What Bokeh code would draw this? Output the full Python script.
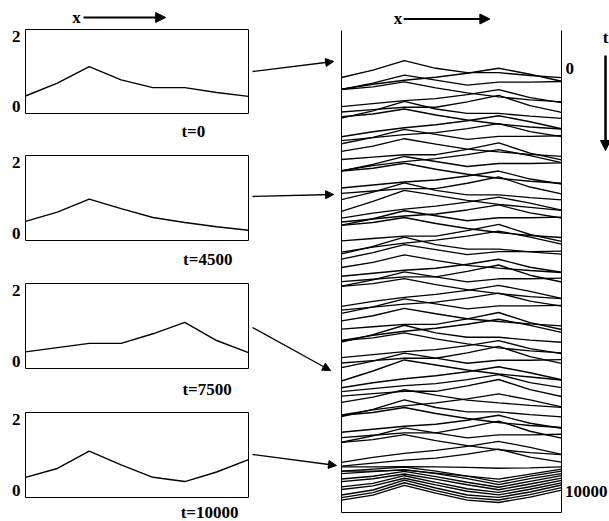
from bokeh.plotting import figure
from bokeh.layouts import row, column
from bokeh.models import Range1d, FixedTicker, LinearAxis, Arrow, NormalHead, Grid
from bokeh.core.properties import value
from bokeh.embed import file_html
from bokeh.resources import INLINE

# ---------------- data ----------------
x_nodes = [0, 1, 2, 3, 4, 5, 6, 7]
y_ticks = [0, 2]

snap_labels = ["t=0", "t=4500", "t=7500", "t=10000"]
u_t0 = [0.30, 0.67, 1.14, 0.76, 0.54, 0.54, 0.40, 0.29]
u_t4500 = [0.34, 0.60, 0.97, 0.70, 0.45, 0.31, 0.19, 0.09]
u_t7500 = [0.27, 0.39, 0.51, 0.51, 0.78, 1.10, 0.59, 0.25]
u_t10000 = [0.37, 0.62, 1.11, 0.72, 0.37, 0.25, 0.52, 0.87]

# other profile shapes seen in the space-time stack
u_a2 = [0.05, 0.55, 1.10, 0.85, 0.60, 0.40, 0.25, 0.10]
u_a3 = [0.71, 0.85, 1.10, 0.80, 0.55, 0.35, 0.20, 0.10]
u_b1 = [0.05, 0.30, 0.50, 0.65, 0.85, 1.10, 0.80, 0.45]
u_b2 = [0.20, 0.35, 0.50, 0.60, 0.80, 1.05, 0.65, 0.40]
u_m = [0.38, 0.70, 1.10, 0.85, 0.60, 0.75, 0.75, 0.78]
u_flat = [0.55, 0.55, 0.56, 0.55, 0.52, 0.48, 0.50, 0.55]
u_dip = [0.55, 0.55, 0.60, 0.45, 0.30, 0.15, 0.40, 0.65]
u_f1 = [0.80, 0.90, 1.00, 0.80, 0.55, 0.25, 0.55, 0.80]
u_f2 = [0.66, 0.80, 1.04, 0.78, 0.50, 0.25, 0.54, 0.83]
u_f3 = [0.52, 0.70, 1.08, 0.75, 0.43, 0.25, 0.53, 0.85]

shapes = {"t0": u_t0, "t4500": u_t4500, "t7500": u_t7500, "t10000": u_t10000,
          "a2": u_a2, "a3": u_a3, "b1": u_b1, "b2": u_b2, "m": u_m,
          "flat": u_flat, "dip": u_dip, "f1": u_f1, "f2": u_f2, "f3": u_f3}

wf_time = [0, 160, 320, 480, 640, 800, 960, 1120, 1280, 1440,
           1600, 1760, 1920, 2080, 2240, 2400, 2560, 2720, 2880, 3040,
           3200, 3360, 3520, 3680, 3840, 4000, 4160, 4320, 4500, 4640,
           4800, 4960, 5120, 5280, 5440, 5600, 5760, 5920, 6080, 6240,
           6400, 6560, 6720, 6880, 7040, 7200, 7360, 7500, 7680, 7840,
           8000, 8160, 8320, 8480, 8640, 8800, 8960, 9120,
           9300, 9400,
           9520, 9580, 9640, 9700, 9760, 9820, 9880, 9940, 10000]
wf_shape = ["t0", "b1", "m", "a3", "b2", "t7500", "t0", "a3", "b1", "b2",
            "m", "t4500", "t7500", "b1", "m", "a3", "b2", "t7500", "t0", "a2",
            "b1", "b2", "m", "a3", "t7500", "b1", "t0", "m", "t4500", "b2",
            "t7500", "m", "a3", "b1", "b2", "m", "t4500", "t7500", "b1", "t0",
            "a3", "b2", "t7500", "m", "a2", "b1", "b2", "t7500", "t4500", "b1",
            "t0", "a3", "b2", "t7500", "m", "a3", "b1", "b2",
            "flat", "dip",
            "f1", "f1", "f2", "f2", "f3", "f3", "t10000", "t10000", "t10000"]

t_tick_values = [0, 10000]
t_tick_labels = ["0", "10000"]

# ---------------- style / layout constants ----------------
FONT = "Liberation Serif"
BLACK = "black"
FS = "17px"
u_scale = 472.0          # time units per unit of u in the stacked plot


def hide_grids(p):
    for r in p.center:
        if isinstance(r, Grid):
            r.visible = False


def style_axis(ax, standoff):
    ax.axis_line_color = None
    ax.major_tick_line_color = None
    ax.minor_tick_line_color = None
    ax.major_tick_out = 0
    ax.major_tick_in = 0
    ax.minor_tick_out = 0
    ax.minor_tick_in = 0
    ax.major_label_standoff = standoff
    ax.major_label_text_font = FONT
    ax.major_label_text_font_style = "bold"
    ax.major_label_text_font_size = FS
    ax.major_label_text_color = BLACK


def base_fig(fw, fh, xr, yr, left=0, right=0, top=0, bottom=0, outline=None):
    p = figure(frame_width=fw, frame_height=fh, x_range=xr, y_range=yr,
               x_axis_location=None, y_axis_location=None,
               toolbar_location=None, output_backend="svg",
               min_border_left=left, min_border_right=right,
               min_border_top=top, min_border_bottom=bottom,
               outline_line_color=outline, background_fill_color="white",
               border_fill_color="white")
    hide_grids(p)
    return p


def arrow(x0, y0, x1, y1, lw, size):
    return Arrow(end=NormalHead(size=size, fill_color=BLACK, line_color=BLACK, line_width=1),
                 x_start=x0, y_start=y0, x_end=x1, y_end=y1,
                 line_width=lw, line_color=BLACK)


def add_text(p, xs, ys, texts, align="center", y_offset=0):
    p.text(x=xs, y=ys, text=texts, y_offset=y_offset, text_align=align,
           text_baseline="middle", text_font=value(FONT), text_font_style="bold",
           text_font_size=value(FS), text_color=BLACK)


# header with "x ->" above first snapshot
hdr = base_fig(223, 27, Range1d(0, 7), Range1d(0, 1), left=25, right=2)
add_text(hdr, [1.60], [0.36], ["x"])
hdr.add_layout(arrow(1.82, 0.37, 4.40, 0.37, 2, 10))

# snapshot panels
snap_u = [u_t0, u_t4500, u_t7500, u_t10000]
label_x = [5.27, 5.72, 5.70, 5.78]
borders_top = [2, 12, 12, 11]
frame_h = [84, 85, 85, 85]
borders_bottom = [30, 30, 30, 28]
standoffs = [8, 9, 11, 5]

panels = [hdr]
for u, lab, lx, bt, fh, bb, so in zip(snap_u, snap_labels, label_x, borders_top,
                                       frame_h, borders_bottom, standoffs):
    p = base_fig(223, fh, Range1d(0, 7), Range1d(-0.2, 2.2), left=25, right=2,
                 top=bt, bottom=bb, outline=BLACK)
    p.outline_line_width = 1
    ya = LinearAxis(ticker=FixedTicker(ticks=y_ticks))
    style_axis(ya, 5)
    p.add_layout(ya, "left")
    xa = LinearAxis(ticker=FixedTicker(ticks=[lx]), major_label_overrides={lx: lab})
    style_axis(xa, so)
    p.add_layout(xa, "below")
    p.line(x_nodes, u, line_color=BLACK, line_width=1.4)
    panels.append(p)

left_col = column(*panels, spacing=0)

# ---------------- space-time stack ----------------
pr = base_fig(359, 521, Range1d(-2.8955, 8.527), Range1d(10330, -1957.5))

xs = [x_nodes for _ in wf_time]
ys = [[t - u_scale * v for v in shapes[s]] for t, s in zip(wf_time, wf_shape)]
pr.multi_line(xs, ys, line_color=BLACK, line_width=1.35)

box_top, box_bottom = -1250, 10118
pr.line([x_nodes[0], x_nodes[0], x_nodes[-1], x_nodes[-1]],
        [box_top, box_bottom, box_bottom, box_top], line_color=BLACK, line_width=1)

# time labels at the right
pr.text(x=[7.13, 8.46], y=t_tick_values, text=t_tick_labels, y_offset=[-15, -16],
        text_align=["left", "right"], text_baseline="middle",
        text_font=value(FONT), text_font_style="bold", text_font_size=value(FS),
        text_color=BLACK)

# "x ->" above stack
add_text(pr, [1.80], [-1533], ["x"])
pr.add_layout(arrow(1.98, -1522, 4.72, -1522, 2, 10))

# "t" with downward arrow
add_text(pr, [8.40], [-1085], ["t"])
pr.add_layout(arrow(8.40, -660, 8.40, 1580, 2.5, 10))

# connectors from snapshots to stack
arrow_tail_t = [-283, 2665, 5755, 8750]
arrow_head_t = [-519, 2618, 6769, 9009]
arrow_head_x = [-0.25, -0.25, -0.35, -0.16]
for ts, te, xe in zip(arrow_tail_t, arrow_head_t, arrow_head_x):
    pr.add_layout(arrow(-2.83, ts, xe, te, 1.3, 8))

layout = row(left_col, pr, spacing=0)

open("out.html", "w").write(file_html(layout, INLINE))
